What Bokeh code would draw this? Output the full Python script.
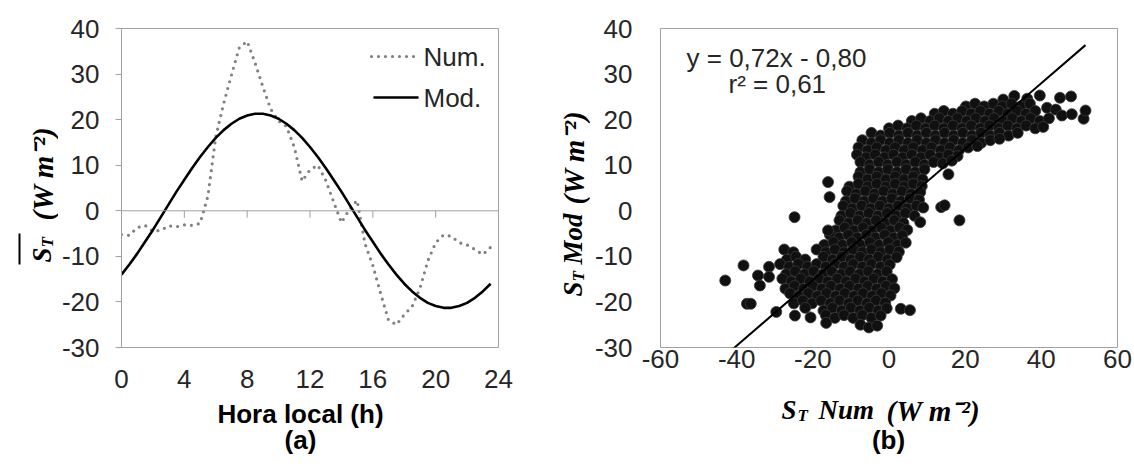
import math
from bokeh.plotting import figure
from bokeh.layouts import row, column
from bokeh.models import Range1d, FixedTicker, Span, CustomJSTickFormatter
from bokeh.core.properties import value
from bokeh.embed import file_html
from bokeh.resources import INLINE

# ---------------- data: panel (a) ----------------
hours = [0, 0.5, 1, 1.5, 2, 2.5, 3, 3.5, 4, 4.5, 5, 5.5, 6, 6.5, 7, 7.5,
         8, 8.5, 9, 9.5, 10, 10.5, 11, 11.5, 12, 12.5, 13, 13.5, 14, 14.5, 15, 15.5,
         16, 16.5, 17, 17.5, 18, 18.5, 19, 19.5, 20, 20.5, 21, 21.5, 22, 22.5, 23, 23.5]
st_num = [-5.2, -5.4, -3.7, -3.2, -4.5, -4.3, -3.3, -3.5, -3.1, -3.2, -2.8, 3.2,
          16.2, 23.5, 29.8, 35.8, 37.2, 32.5, 27.2, 22.3, 19.7, 18.5, 14.0, 6.5,
          9.0, 10.0, 6.7, 2.0, -2.6, 0.3, 2.3, -7.2, -12.0, -18.2, -24.0, -25.0,
          -22.8, -21.0, -17.0, -11.0, -7.0, -5.3, -5.6, -7.0, -7.5, -8.5, -9.6, -8.0]
st_mod = [-14.0, -11.8, -9.4, -6.8, -4.2, -1.4, 1.4, 4.2, 6.8, 9.4, 11.8, 14.0,
          16.0, 17.7, 19.1, 20.2, 20.9, 21.3, 21.3, 20.9, 20.2, 19.1, 17.7, 16.0,
          14.0, 11.8, 9.4, 6.8, 4.2, 1.4, -1.4, -4.2, -6.8, -9.4, -11.8, -14.0,
          -16.0, -17.7, -19.1, -20.2, -20.9, -21.3, -21.3, -20.9, -20.2, -19.1, -17.7, -16.0]
hour_ticks = [0, 4, 8, 12, 16, 20, 24]
axis_ticks_a = [4, 8, 12, 16, 20]
y_ticks = [-30, -20, -10, 0, 10, 20, 30, 40]

# ---------------- data: panel (b) (ST Num, ST Mod) ----------------
pts_upper = [
    (30.0, 24.4), (32.9, 25.2), (36.3, 24.6), (39.6, 25.3),
    (20.2, 22.9), (22.6, 23.5), (25.0, 22.9), (27.4, 23.5), (29.8, 22.9), (32.2, 23.5), (34.6, 22.9), (37.0, 23.5),
    (12.0, 21.3), (14.4, 21.9), (16.8, 21.3), (19.2, 21.9), (21.6, 21.3), (24.0, 21.9), (26.4, 21.3), (28.8, 21.9),
    (31.2, 21.3), (33.6, 21.9), (36.0, 21.3), (38.4, 21.9),
    (6.0, 19.7), (8.4, 20.3), (10.8, 19.7), (13.2, 20.3), (15.6, 19.7), (18.0, 20.3), (20.4, 19.7), (22.8, 20.3),
    (25.2, 19.7), (27.6, 20.3), (30.0, 19.7), (32.4, 20.3), (34.8, 19.7), (37.2, 20.3), (39.6, 19.7), (42.0, 20.3),
    (0.0, 18.1), (2.4, 18.7), (4.8, 18.1), (7.2, 18.7), (9.6, 18.1), (12.0, 18.7), (14.4, 18.1), (16.8, 18.7),
    (19.2, 18.1), (21.6, 18.7), (24.0, 18.1), (26.4, 18.7), (28.8, 18.1), (31.2, 18.7), (33.6, 18.1), (36.0, 18.7),
    (38.4, 18.1), (40.5, 18.4),
    (-4.6, 17.1), (-2.2, 16.5), (0.2, 17.1), (2.6, 16.5), (5.0, 17.1), (7.4, 16.5), (9.8, 17.1), (12.2, 16.5),
    (14.6, 17.1), (17.0, 16.5), (19.4, 17.1), (21.8, 16.5), (24.2, 17.1), (26.6, 16.5), (29.0, 17.1), (31.4, 16.5), (33.8, 17.1),
    (-7.0, 15.5), (-4.6, 14.9), (-2.2, 15.5), (0.2, 14.9), (2.6, 15.5), (5.0, 14.9), (7.4, 15.5), (9.8, 14.9),
    (12.2, 15.5), (14.6, 14.9), (17.0, 15.5), (19.4, 14.9), (21.8, 15.5), (24.2, 14.9), (26.6, 15.5), (29.0, 15.8),
    (-8.0, 13.9), (-5.6, 13.3), (-3.2, 13.9), (-0.8, 13.3), (1.6, 13.9), (4.0, 13.3), (6.4, 13.9), (8.8, 13.3),
    (11.2, 13.9), (13.6, 13.3), (16.0, 13.9), (18.4, 13.3), (20.8, 13.9), (23.2, 14.2),
    (-8.4, 12.3), (-6.0, 11.7), (-3.6, 12.3), (-1.2, 11.7), (1.2, 12.3), (3.6, 11.7), (6.0, 12.3), (8.4, 11.7),
    (10.8, 12.3), (13.2, 11.7), (15.6, 12.3), (18.0, 12.0),
]
pts_column = [
    (-7.5, 10.7), (-5.1, 10.1), (-2.7, 10.7), (-0.3, 10.1), (2.1, 10.7), (4.5, 10.1), (6.9, 10.7), (9.3, 10.1), (11.7, 10.7), (14.1, 10.4), (16.5, 11.0),
    (-7.5, 8.5), (-5.1, 9.1), (-2.7, 8.5), (-0.3, 9.1), (2.1, 8.5), (4.5, 9.1), (6.9, 8.5), (9.3, 9.1),
    (-8.0, 7.5), (-5.6, 6.9), (-3.2, 7.5), (-0.8, 6.9), (1.6, 7.5), (4.0, 6.9), (6.4, 7.5), (8.8, 6.9),
    (-10.4, 5.3), (-8.0, 5.9), (-5.6, 5.3), (-3.2, 5.9), (-0.8, 5.3), (1.6, 5.9), (4.0, 5.3), (6.4, 5.9), (8.6, 5.4),
    (-11.0, 4.3), (-8.6, 3.7), (-6.2, 4.3), (-3.8, 3.7), (-1.4, 4.3), (1.0, 3.7), (3.4, 4.3), (5.8, 3.7), (8.2, 4.1),
    (-11.3, 2.1), (-8.9, 2.7), (-6.5, 2.1), (-4.1, 2.7), (-1.7, 2.1), (0.7, 2.7), (3.1, 2.1), (5.5, 2.7), (7.9, 2.4),
    (-12.0, 1.1), (-9.6, 0.5), (-7.2, 1.1), (-4.8, 0.5), (-2.4, 1.1), (0.0, 0.5), (2.4, 1.1), (4.8, 0.5), (7.2, 1.1), (9.0, 0.7),
    (-12.5, -1.1), (-10.1, -0.5), (-7.7, -1.1), (-5.3, -0.5), (-2.9, -1.1), (-0.5, -0.5), (1.9, -1.1), (4.3, -0.5), (6.7, -1.1),
    (-13.0, -2.1), (-10.6, -2.7), (-8.2, -2.1), (-5.8, -2.7), (-3.4, -2.1), (-1.0, -2.7), (1.4, -2.1), (3.8, -2.7), (8.2, -2.5),
    (-14.0, -4.3), (-11.6, -3.7), (-9.2, -4.3), (-6.8, -3.7), (-4.4, -4.3), (-2.0, -3.7), (0.4, -4.3), (2.8, -3.7), (4.8, -4.2),
    (-15.5, -5.3), (-13.1, -5.9), (-10.7, -5.3), (-8.3, -5.9), (-5.9, -5.3), (-3.5, -5.9), (-1.1, -5.3), (1.3, -5.9), (3.5, -5.4),
    (-17.0, -7.5), (-14.6, -6.9), (-12.2, -7.5), (-9.8, -6.9), (-7.4, -7.5), (-5.0, -6.9), (-2.6, -7.5), (-0.2, -6.9), (2.2, -7.5), (4.4, -7.0),
]
pts_lower = [
    (-27.5, -8.5), (-25.1, -9.1), (-19.0, -8.5), (-16.6, -9.1), (-14.2, -8.5), (-11.8, -9.1), (-9.4, -8.5), (-7.0, -9.1),
    (-4.6, -8.5), (-2.2, -9.1), (0.2, -8.5), (2.6, -9.0),
    (-26.8, -10.7), (-24.4, -10.1), (-22.0, -10.7), (-17.2, -10.1), (-14.8, -10.7), (-12.4, -10.1), (-10.0, -10.7),
    (-7.6, -10.1), (-5.2, -10.7), (-2.8, -10.1), (-0.4, -10.7), (2.0, -10.2),
    (-28.6, -11.7), (-26.2, -12.3), (-23.8, -11.7), (-21.4, -12.3), (-19.0, -11.7), (-16.6, -12.3), (-14.2, -11.7),
    (-11.8, -12.3), (-9.4, -11.7), (-7.0, -12.3), (-4.6, -11.7), (-2.2, -12.3), (0.2, -11.8),
    (-27.0, -13.9), (-24.6, -13.3), (-22.2, -13.9), (-19.8, -13.3), (-17.4, -13.9), (-15.0, -13.3), (-12.6, -13.9),
    (-10.2, -13.3), (-7.8, -13.9), (-5.4, -13.3), (-3.0, -13.9), (-0.6, -13.3),
    (-28.0, -14.9), (-25.6, -15.5), (-23.2, -14.9), (-20.8, -15.5), (-18.4, -14.9), (-16.0, -15.5), (-13.6, -14.9),
    (-11.2, -15.5), (-8.8, -14.9), (-6.4, -15.5), (-4.0, -14.9), (-1.6, -15.5), (0.8, -15.0),
    (-27.2, -17.1), (-24.8, -16.5), (-22.4, -17.1), (-20.0, -16.5), (-17.6, -17.1), (-15.2, -16.5), (-12.8, -17.1),
    (-10.4, -16.5), (-8.0, -17.1), (-5.6, -16.5), (-3.2, -17.1), (-0.8, -16.5), (1.4, -17.0),
    (-26.0, -18.1), (-23.6, -18.7), (-21.2, -18.1), (-18.8, -18.7), (-16.4, -18.1), (-14.0, -18.7), (-11.6, -18.1),
    (-9.2, -18.7), (-6.8, -18.1), (-4.4, -18.7), (-2.0, -18.1), (0.4, -18.6),
    (-25.0, -20.3), (-22.6, -19.7), (-20.2, -20.3), (-17.8, -19.7), (-15.4, -20.3), (-13.0, -19.7), (-10.6, -20.3),
    (-8.2, -19.7), (-5.8, -20.3), (-3.4, -19.7), (-1.0, -20.2),
    (-22.0, -21.3), (-17.2, -21.9), (-14.8, -21.3), (-12.4, -21.9), (-10.0, -21.3), (-7.6, -21.9), (-5.2, -21.3),
    (-2.8, -21.9), (-0.6, -21.4),
    (-24.7, -23.0), (-20.6, -23.4), (-16.6, -22.9), (-14.2, -23.5), (-11.8, -22.9), (-9.4, -23.5), (-7.0, -22.9),
    (-4.6, -23.5), (-2.2, -23.0),
    (-16.5, -24.6), (-7.5, -25.0), (-5.3, -25.6), (-3.1, -25.2),
]
pts_outliers = [
    (44.9, 24.8), (47.8, 25.1), (41.5, 22.6), (43.8, 22.2), (45.4, 20.9), (51.1, 20.2), (51.6, 22.0), (48.0, 21.2),
    (15.6, 8.0), (-16.0, 6.3), (-15.6, 3.0), (13.7, 0.8), (14.6, 1.2), (-24.8, -1.4), (18.5, -2.1), (-16.0, -4.3),
    (-38.2, -12.0), (-31.5, -12.3), (-34.4, -14.2), (-43.0, -15.3), (-31.5, -14.5), (-33.9, -16.4),
    (-37.3, -20.4), (-36.3, -20.4), (3.1, -21.5), (5.5, -21.8), (-29.6, -22.2),
]
fit_slope = 0.72
fit_intercept = -0.80
x_ticks_b = [-60, -40, -20, 0, 20, 40, 60]

# ---------------- layout constants (pixels, page coordinates) ----------------
H = 466
TOP, FH = 28, 319                 # frame top and height (both panels)
YA_W = 58                         # strip holding the rotated title of (a)
PA_W, PA_H = 487, 400
A_X0, A_FW = 121, 377             # frame of (a)
YB_X, YB_W = 545, 45              # strip holding the rotated title of (b)
PB_X, PB_W, PB_H = 590, 544, 380
B_X0, B_FW = 660, 457             # frame of (b)
A_XR, B_XR, YR = (0, 24), (-60, 60), (-30, 40)

TICK_FONT = "Liberation Sans"
MATH_FONT = "Liberation Serif"
FS = "26px"
TXT = "#262626"
FRAME = "#a0a0a0"
R = math.pi / 2
UNIT = "(W m\u207b\u00b2)"


def dx(px, x0, fw, xr):
    return xr[0] + (px - x0) / fw * (xr[1] - xr[0])


def dy(py):
    return YR[1] - (py - TOP) / FH * (YR[1] - YR[0])


def make_fig(fig_x, width, height, x0, fw, xr):
    left = x0 - fig_x
    p = figure(width=width, height=height, output_backend="svg", toolbar_location=None,
               x_range=Range1d(*xr), y_range=Range1d(*YR),
               min_border_left=left, min_border_right=width - left - fw,
               min_border_top=TOP, min_border_bottom=height - TOP - FH,
               frame_width=fw, frame_height=FH)
    p.grid.visible = False
    p.outline_line_color = FRAME
    p.outline_line_width = 1
    p.background_fill_color = "white"
    p.border_fill_color = "white"
    for ax in (p.xaxis[0], p.yaxis[0]):
        ax.major_label_text_font = TICK_FONT
        ax.major_label_text_font_size = FS
        ax.major_label_text_color = TXT
        ax.minor_tick_line_color = None
        ax.formatter = CustomJSTickFormatter(code="return String(tick);")
    p.yaxis.ticker = FixedTicker(ticks=y_ticks)
    return p


class TextStrip:
    """A bare figure; its data coordinates are page pixels (frame may be inset)."""

    def __init__(self, gx, gy, w, h, fl=0, fw=None):
        fw = w if fw is None else fw
        self.gy, self.h = gy, h
        p = figure(width=w, height=h, output_backend="svg", toolbar_location=None,
                   x_range=Range1d(gx + fl, gx + fl + fw), y_range=Range1d(0, h),
                   x_axis_type=None, y_axis_type=None,
                   min_border_left=fl, min_border_right=w - fl - fw,
                   min_border_top=0, min_border_bottom=0, frame_width=fw, frame_height=h)
        p.grid.visible = False
        p.outline_line_color = None
        p.background_fill_color = "white"
        p.border_fill_color = "white"
        self.p = p

    def text(self, px, py, t, size, font=MATH_FONT, style="bold italic", align="left",
             baseline="alphabetic", angle=0.0):
        self.p.text(x=[px], y=[self.h - (py - self.gy)], text=[t],
                    text_font=value(font), text_font_size=value(size),
                    text_font_style=value(style), text_align=value(align),
                    text_baseline=value(baseline), angle=angle, text_color="black")

    def line(self, px0, py0, px1, py1, width=2):
        self.p.line([px0, px1], [self.h - (py0 - self.gy), self.h - (py1 - self.gy)],
                    line_color="black", line_width=width)


# ================= panel (a) =================
pa = make_fig(YA_W, PA_W, PA_H, A_X0, A_FW, A_XR)
pa.xaxis.ticker = FixedTicker(ticks=hour_ticks)
pa.xaxis.axis_line_color = None
pa.xaxis.major_tick_line_color = None
pa.xaxis.major_label_standoff = 16
pa.yaxis.axis_line_color = FRAME
pa.yaxis.major_tick_line_color = FRAME
pa.yaxis.major_tick_out = 6
pa.yaxis.major_tick_in = 0
pa.yaxis.major_label_standoff = 16

pa.add_layout(Span(location=0, dimension="width", line_color=FRAME, line_width=1))
tick_len = 7 / FH * (YR[1] - YR[0])
pa.segment(x0=axis_ticks_a, y0=[0] * len(axis_ticks_a), x1=axis_ticks_a,
           y1=[-tick_len] * len(axis_ticks_a), line_color=FRAME, line_width=1)

pa.line(hours, st_num, line_color="#808080", line_width=3.2, line_dash="0 7", line_cap="round")
pa.line(hours, st_mod, line_color="black", line_width=2.6)


def ax_(px):
    return dx(px, A_X0, A_FW, A_XR)


pa.line([ax_(371), ax_(416)], [dy(56), dy(56)], line_color="#808080", line_width=3.2,
        line_dash="0 7", line_cap="round")
pa.line([ax_(373), ax_(418)], [dy(97), dy(97)], line_color="black", line_width=2.6)
pa.text(x=[ax_(423), ax_(423)], y=[dy(56), dy(97)], text=["Num.", "Mod."],
        text_font=value(TICK_FONT), text_font_size=value(FS), text_color=TXT,
        text_baseline="middle", text_align="left")

# rotated title of (a): overline(S_T) (W m^-2)
ya = TextStrip(0, 0, YA_W, H)
ya.text(41, 262, "S", "27px", angle=R)
ya.text(47, 247, "T", "17px", angle=R)
ya.line(19, 264, 19, 233)
ya.text(42, 220, UNIT, "29px", angle=R)

xa = TextStrip(YA_W, PA_H, PA_W, H - PA_H, fl=A_X0 - YA_W, fw=A_FW)
xa.text(300, 413, "Hora local (h)", FS, TICK_FONT, "bold", align="center", baseline="middle")
xa.text(300, 439, "(a)", FS, TICK_FONT, "bold", align="center", baseline="middle")

# ================= panel (b) =================
pb = make_fig(PB_X, PB_W, PB_H, B_X0, B_FW, B_XR)
pb.xaxis.ticker = FixedTicker(ticks=x_ticks_b)
for ax in (pb.xaxis[0], pb.yaxis[0]):
    ax.axis_line_color = None
    ax.major_tick_line_color = None
pb.xaxis.major_label_standoff = -4
pb.yaxis.major_label_standoff = 22

pts = pts_upper + pts_column + pts_lower + pts_outliers
sx = [p[0] for p in pts]
sy = [p[1] for p in pts]
pb.scatter(sx, sy, size=11, fill_color="#101010", line_color="#3a3a3a", line_width=0.8)

fx = [min(sx), max(sx)]
fy = [fit_slope * v + fit_intercept for v in fx]
pb.line(fx, fy, line_color="black", line_width=2)


def bx(px):
    return dx(px, B_X0, B_FW, B_XR)


pb.text(x=[bx(686), bx(728)], y=[dy(57), dy(83)], text=["y = 0,72x - 0,80", "r\u00b2 = 0,61"],
        text_font=value(TICK_FONT), text_font_size=value(FS), text_color=TXT,
        text_baseline="middle", text_align="left")

# rotated title of (b): S_T Mod (W m^-2)
yb = TextStrip(YB_X, 0, YB_W, H)
yb.text(572, 296, "S", "27px", angle=R)
yb.text(578, 281, "T", "17px", angle=R)
yb.text(572, 264, "Mod", "27px", angle=R)
yb.text(573, 204, UNIT, "29px", angle=R)

# horizontal title of (b): S_T Num (W m^-2)
xb = TextStrip(PB_X, PB_H, PB_W, H - PB_H, fl=B_X0 - PB_X, fw=B_FW)
xb.text(781, 409, "S", "27px")
xb.text(797, 415, "T", "17px")
xb.text(818, 409, "Num", "27px")
xb.text(886, 410, UNIT, "29px")
xb.text(888, 439, "(b)", FS, TICK_FONT, "bold", align="center", baseline="middle")

layout = row(ya.p, column(pa, xa.p, spacing=0), yb.p, column(pb, xb.p, spacing=0), spacing=0)
open("out.html", "w").write(file_html(layout, INLINE))
